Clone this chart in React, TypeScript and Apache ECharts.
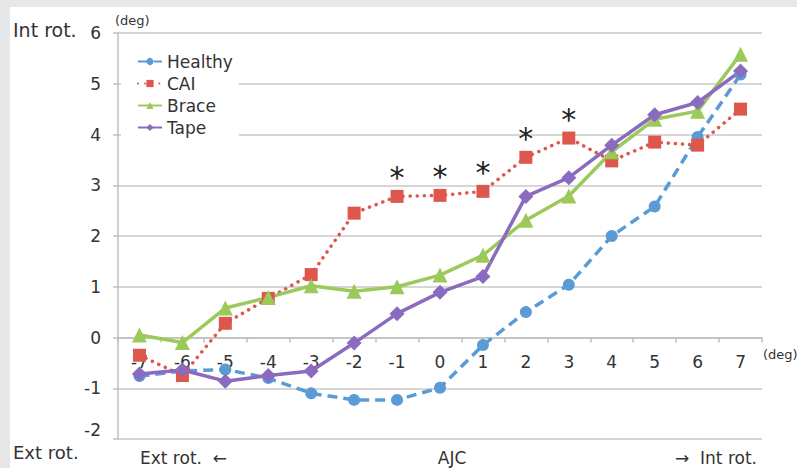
import React, { useEffect, useRef } from "react";
import * as echarts from "echarts";

const categories = ["-7", "-6", "-5", "-4", "-3", "-2", "-1", "0", "1", "2", "3", "4", "5", "6", "7"];
const healthy = [-0.76, -0.66, -0.63, -0.8, -1.1, -1.23, -1.23, -0.99, -0.15, 0.5, 1.04, 2.0, 2.58, 3.95, 5.18];
const cai = [-0.35, -0.75, 0.28, 0.77, 1.24, 2.45, 2.78, 2.8, 2.88, 3.55, 3.93, 3.48, 3.85, 3.79, 4.5];
const brace = [0.05, -0.1, 0.58, 0.79, 1.02, 0.91, 1.0, 1.23, 1.62, 2.31, 2.79, 3.66, 4.3, 4.46, 5.58];
const tape = [-0.72, -0.64, -0.86, -0.75, -0.66, -0.11, 0.47, 0.89, 1.2, 2.78, 3.15, 3.79, 4.39, 4.63, 5.25];
const significant = ["-1", "0", "1", "2", "3"];
const yTicks = { min: -2, max: 6, interval: 1 };

const COLORS = {
  healthy: "#5B9BD5",
  cai: "#DE574D",
  brace: "#9BC95A",
  tape: "#8A6BBF",
};
const FONT = "DejaVu Sans";
const GRID = { left: 118, right: 35, top: 33, bottom: 29 };
const CHART_H = 468;

export default function App() {
  const ref = useRef<HTMLDivElement>(null);
  useEffect(() => {
    document.body.style.margin = "0";
    const chart = echarts.init(ref.current!, undefined, { renderer: "svg" });
    const plotH = CHART_H - GRID.top - GRID.bottom;
    const zeroOffset = -((0 - yTicks.min) / (yTicks.max - yTicks.min)) * plotH;
    const caiData = cai.map((v, i) =>
      significant.includes(categories[i])
        ? {
            value: v,
            label: {
              show: true,
              formatter: "*",
              position: "top",
              distance: -3,
              fontSize: 30,
              color: "#222",
              fontFamily: FONT,
            },
          }
        : v
    );
    chart.setOption({
      animation: false,
      backgroundColor: "#ffffff",
      textStyle: { fontFamily: FONT },
      grid: GRID,
      legend: {
        orient: "vertical",
        left: 121,
        top: 49,
        padding: [4, 6, 6, 16],
        backgroundColor: "#ffffff",
        itemWidth: 24,
        itemHeight: 9,
        itemGap: 5,
        textStyle: { fontSize: 17, color: "#333", lineHeight: 17, fontFamily: FONT },
        data: ["Healthy", "CAI", "Brace", "Tape"],
      },
      xAxis: {
        type: "category",
        data: categories,
        boundaryGap: true,
        position: "bottom",
        offset: zeroOffset,
        axisLine: { onZero: false, lineStyle: { color: "#BFBFBF", width: 1.5 } },
        axisTick: { show: true, length: 5, inside: false, lineStyle: { color: "#BFBFBF", width: 1.5 } },
        axisLabel: { fontSize: 17, color: "#333", margin: 16, fontFamily: FONT },
        splitLine: { show: false },
      },
      yAxis: {
        type: "value",
        min: yTicks.min,
        max: yTicks.max,
        interval: yTicks.interval,
        axisLine: { show: true, lineStyle: { color: "#BFBFBF", width: 1.5 } },
        axisTick: { show: true, length: 5, lineStyle: { color: "#BFBFBF", width: 1.5 } },
        axisLabel: {
          fontSize: 17,
          color: "#333",
          margin: 17,
          fontFamily: FONT,
          formatter: (v: number) => (v === -2 ? "{up|-2}" : String(v)),
          rich: { up: { fontSize: 17, color: "#333", padding: [0, 0, 18, 0], fontFamily: FONT } },
        },
        splitLine: { show: true, lineStyle: { color: "#C8C8C8", width: 1.5 } },
      },
      series: [
        {
          name: "Healthy",
          type: "line",
          data: healthy,
          symbol: "circle",
          symbolSize: 12,
          itemStyle: { color: COLORS.healthy },
          lineStyle: { color: COLORS.healthy, width: 3.5, type: [10, 6] },
        },
        {
          name: "CAI",
          type: "line",
          data: caiData,
          symbol: "rect",
          symbolSize: 13,
          itemStyle: { color: COLORS.cai },
          lineStyle: { color: COLORS.cai, width: 3.5, type: [0.1, 7], cap: "round" },
        },
        {
          name: "Brace",
          type: "line",
          data: brace,
          symbol: "triangle",
          symbolSize: 15,
          itemStyle: { color: COLORS.brace },
          lineStyle: { color: COLORS.brace, width: 3.5 },
        },
        {
          name: "Tape",
          type: "line",
          data: tape,
          symbol: "diamond",
          symbolSize: 15,
          itemStyle: { color: COLORS.tape },
          lineStyle: { color: COLORS.tape, width: 3.5 },
        },
      ],
      graphic: [
        { type: "rect", shape: { x: 0, y: 0, width: 797, height: 7 }, style: { fill: "#E6E7E9" }, z: 100 },
        { type: "rect", shape: { x: 0, y: 0, width: 10, height: 468 }, style: { fill: "#E6E7E9" }, z: 100 },
        { type: "text", x: 115, y: 20, style: { text: "(deg)", fontSize: 13, fill: "#333", fontFamily: FONT, verticalAlign: "middle" } },
        { type: "text", x: 13, y: 30, style: { text: "Int rot.", fontSize: 19, fill: "#333", fontFamily: FONT, verticalAlign: "middle" } },
        { type: "text", x: 13, y: 452, style: { text: "Ext rot.", fontSize: 18, fill: "#333", fontFamily: FONT, verticalAlign: "middle" } },
        { type: "text", x: 140, y: 458, style: { text: "Ext rot.  \u2190", fontSize: 17, fill: "#333", fontFamily: FONT, verticalAlign: "middle" } },
        { type: "text", x: 452, y: 458, style: { text: "AJC", fontSize: 17, fill: "#333", fontFamily: FONT, align: "center", verticalAlign: "middle" } },
        { type: "text", x: 757, y: 458, style: { text: "\u2192  Int rot.", fontSize: 17, fill: "#333", fontFamily: FONT, align: "right", verticalAlign: "middle" } },
        { type: "text", x: 763, y: 354, style: { text: "(deg)", fontSize: 13, fill: "#333", fontFamily: FONT, verticalAlign: "middle" } },
      ],
    });
    return () => chart.dispose();
  }, []);
  return <div ref={ref} style={{ width: 797, height: 468 }} />;
}
